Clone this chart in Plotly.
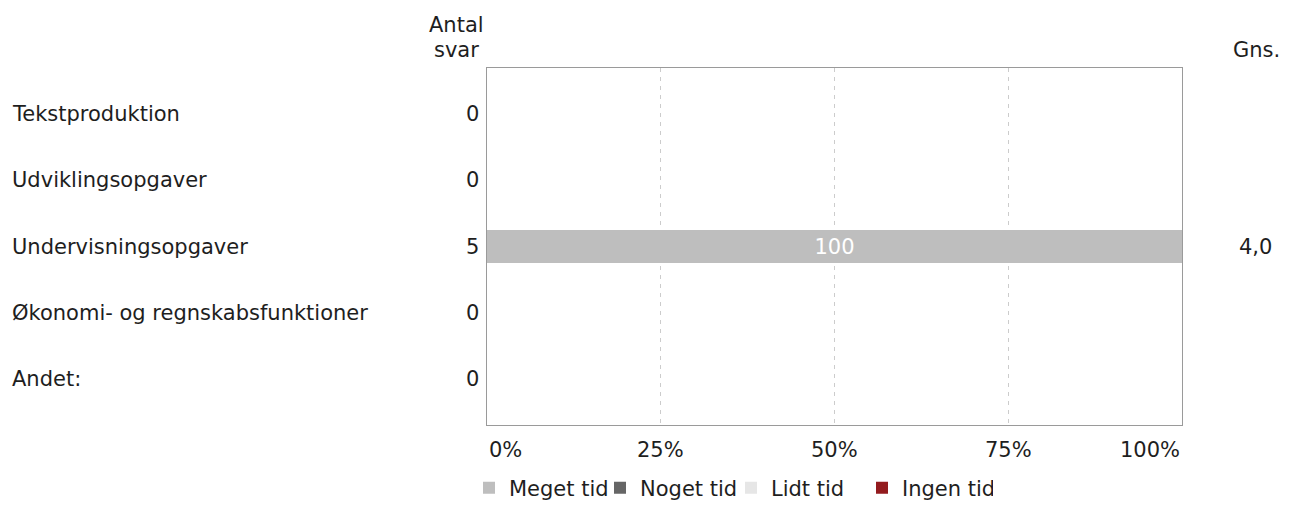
import plotly.graph_objects as go

categories = ["Tekstproduktion", "Udviklingsopgaver", "Undervisningsopgaver",
              "Økonomi- og regnskabsfunktioner", "Andet:"]
antal_svar = [0, 0, 5, 0, 0]
gns = ["", "", "4,0", "", ""]

series_names = ["Meget tid", "Noget tid", "Lidt tid", "Ingen tid"]
series_colors = ["#bebebe", "#666666", "#e6e6e6", "#931b1e"]
series_values = [
    [0, 0, 100, 0, 0],
    [0, 0, 0, 0, 0],
    [0, 0, 0, 0, 0],
    [0, 0, 0, 0, 0],
]

tick_vals = [0, 25, 50, 75, 100]
tick_labels = ["0%", "25%", "50%", "75%", "100%"]

FONT = "DejaVu Sans, Verdana, sans-serif"
FS = 21
W, H = 1275, 492
L, R, T, B = 479, 101, 60, 75
PW = W - L - R


def px(x):
    # figure pixel -> paper fraction (horizontal)
    return (x - L) / PW


ypos = list(range(len(categories)))

fig = go.Figure()
for name, color, vals in zip(series_names, series_colors, series_values):
    fig.add_trace(go.Bar(
        y=ypos, x=vals, name=name, orientation="h",
        marker=dict(color=color, line_width=0),
        width=0.5,
        text=[str(v) if v else "" for v in vals],
        textposition="inside", insidetextanchor="middle",
        textfont=dict(color="white", size=FS, family=FONT),
    ))

ann = []
for i, cat in enumerate(categories):
    ann.append(dict(x=px(2), xref="paper", y=i, yref="y", text=cat,
                    showarrow=False, xanchor="left"))
    ann.append(dict(x=px(473), xref="paper", y=i, yref="y",
                    text=str(antal_svar[i]), showarrow=False, xanchor="right"))
    if gns[i]:
        ann.append(dict(x=px(1266), xref="paper", y=i, yref="y", text=gns[i],
                        showarrow=False, xanchor="right"))

# column headers
ann.append(dict(x=px(448), xref="paper", y=1, yref="paper", yshift=43,
                text="Antal", showarrow=False, xanchor="center", yanchor="middle"))
ann.append(dict(x=px(448), xref="paper", y=1, yref="paper", yshift=18,
                text="svar", showarrow=False, xanchor="center", yanchor="middle"))
ann.append(dict(x=px(1248), xref="paper", y=1, yref="paper", yshift=18,
                text="Gns.", showarrow=False, xanchor="center", yanchor="middle"))

# percent ticks: first left-aligned, last right-aligned
for v, t in zip(tick_vals, tick_labels):
    anchor = "left" if v == 0 else ("right" if v == 100 else "center")
    ann.append(dict(x=v, xref="x", y=0, yref="paper", yshift=-25, text=t,
                    showarrow=False, xanchor=anchor, yanchor="middle"))

fig.update_layout(
    barmode="stack",
    width=W, height=H,
    margin=dict(l=L, r=R, t=T, b=B),
    plot_bgcolor="white", paper_bgcolor="white",
    font=dict(family=FONT, size=FS, color="#1e1e1e"),
    annotations=ann,
    xaxis=dict(range=[0, 100], tickvals=[25, 50, 75], showticklabels=False,
               showgrid=True, gridcolor="#cccccc", griddash="4px,5px", gridwidth=1,
               showline=True, linecolor="#9a9a9a", linewidth=1, mirror=True,
               zeroline=False, fixedrange=True),
    yaxis=dict(range=[4.7, -0.7], showticklabels=False, showgrid=False,
               showline=True, linecolor="#9a9a9a", linewidth=1, mirror=True,
               zeroline=False, fixedrange=True),
    legend=dict(orientation="h", x=px(461), xanchor="left",
                yref="container", y=12 / H, yanchor="middle",
                font=dict(size=FS), itemwidth=30, traceorder="normal",
                entrywidth=86, entrywidthmode="pixels"),
    showlegend=True,
)

fig.write_html("out.html")
